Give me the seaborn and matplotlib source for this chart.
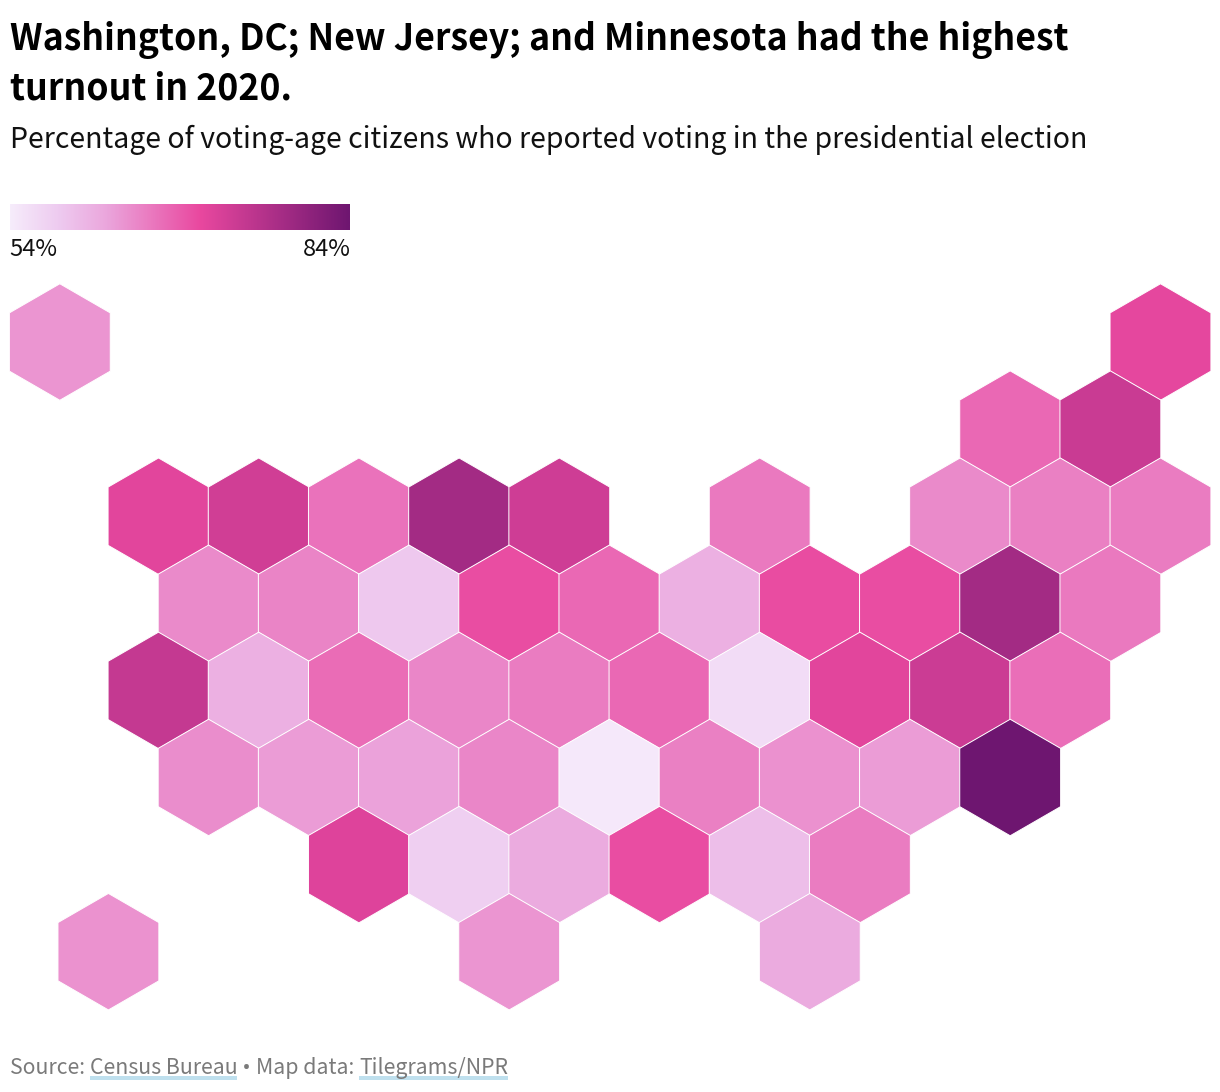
"""Hex tile map of 2020 voter turnout by state."""

import matplotlib

matplotlib.use("Agg")
import matplotlib.pyplot as plt
import numpy as np
import pandas as pd
import seaborn as sns
from matplotlib.colors import LinearSegmentedColormap
from matplotlib.patches import Rectangle

# grid position of each tile, half-tile steps across, one row per step down
row_0_cols = [0.03, 22]
row_1_cols = [19, 21]
row_2_cols = [2, 4, 6, 8, 10, 14, 18, 20, 22]
row_3_cols = [3, 5, 7, 9, 11, 13, 15, 17, 19, 21]
row_4_cols = [2, 4, 6, 8, 10, 12, 14, 16, 18, 20]
row_5_cols = [3, 5, 7, 9, 11, 13, 15, 17, 19]
row_6_cols = [6, 8, 10, 12, 14, 16]
row_7_cols = [1, 9, 15]

# turnout, percent of voting-age citizens
row_0_vals = [64.0, 71.2]
row_1_vals = [68.0, 74.2]
row_2_vals = [71.5, 73.5, 67.1, 78.3, 73.6, 66.5, 65.0, 65.9, 66.2]
row_3_vals = [65.0, 65.6, 58.6, 70.3, 68.0, 61.3, 70.5, 70.3, 78.3, 66.5]
row_4_vals = [74.8, 61.3, 67.7, 65.3, 66.2, 68.0, 56.0, 71.5, 74.0, 67.4]
row_5_vals = [64.7, 63.4, 62.8, 65.3, 54.5, 65.9, 64.4, 63.4, 84.0]
row_6_vals = [72.0, 57.7, 61.9, 70.3, 59.8, 66.2]
row_7_vals = [64.3, 64.0, 61.9]

all_cols = [row_0_cols, row_1_cols, row_2_cols, row_3_cols, row_4_cols, row_5_cols, row_6_cols, row_7_cols]
all_vals = [row_0_vals, row_1_vals, row_2_vals, row_3_vals, row_4_vals, row_5_vals, row_6_vals, row_7_vals]

scale_min = 54
scale_max = 84

title_lines = ["Washington, DC; New Jersey; and Minnesota had the highest", "turnout in 2020."]
subtitle = "Percentage of voting-age citizens who reported voting in the presidential election"

df = pd.DataFrame(
    [
        {"col": c, "row": r, "turnout": v}
        for r, (cols, vals) in enumerate(zip(all_cols, all_vals))
        for c, v in zip(cols, vals)
    ]
)

sns.set_theme(style="white")
plt.rcParams["font.family"] = ["Noto Sans CJK SC", "DejaVu Sans"]

W, H = 1220, 1092
fig = plt.figure(figsize=(W / 100, H / 100), dpi=100, facecolor="white")

cmap = LinearSegmentedColormap.from_list(
    "turnout",
    [(0, "#f6ecfb"), (0.14, "#eecbf0"), (0.28, "#eba7dd"), (0.56, "#e9489f"), (1, "#6e1670")],
)

# map fills the whole canvas so one column is about 50 px and one row 87 px
ax = fig.add_axes([0, 0, 1, 1])
sns.scatterplot(
    data=df,
    x="col",
    y="row",
    hue="turnout",
    hue_norm=(scale_min, scale_max),
    palette=cmap,
    marker="h",
    s=(116.5 * 0.72) ** 2,
    edgecolor="white",
    linewidth=0.7,
    legend=False,
    ax=ax,
)
ax.set_xlim(-1.164, 23.188)
ax.set_ylim(8.611, -3.927)
ax.axis("off")
ax.patch.set_alpha(0)


def fx(px):
    return px / W


def fy(px):
    return 1 - px / H


# legend bar
bar_ax = fig.add_axes([fx(10), fy(230), fx(340), 26 / H])
bar_ax.imshow(np.linspace(0, 1, 256).reshape(1, -1), aspect="auto", cmap=cmap)
bar_ax.axis("off")
fig.text(fx(9.5), fy(256), f"{scale_min}%", fontsize=17, color="#111111", va="baseline")
fig.text(fx(351), fy(256), f"{scale_max}%", fontsize=17, color="#111111", ha="right", va="baseline")

fig.text(fx(10), fy(50), title_lines[0], fontsize=25.67, fontweight="bold", color="black", va="baseline")
fig.text(fx(10), fy(100), title_lines[1], fontsize=25.67, fontweight="bold", color="black", va="baseline")
fig.text(fx(10), fy(148), subtitle, fontsize=20.46, color="#111111", va="baseline")

# source line, links get a pale blue underline, the bullet is narrower in Noto Sans
renderer = fig.canvas.get_renderer()
x = 10
for piece, linked, family in [
    ("Source: ", False, "Noto Sans CJK SC"),
    ("Census Bureau", True, "Noto Sans CJK SC"),
    ("\u00a0•\u00a0", False, "Noto Sans"),
    ("Map data: ", False, "Noto Sans CJK SC"),
    ("Tilegrams/NPR", True, "Noto Sans CJK SC"),
]:
    t = fig.text(fx(x), fy(1074), piece, fontsize=15.3, family=family, color="#7a7a7a", va="baseline", zorder=3)
    w = t.get_window_extent(renderer).width
    if linked:
        fig.add_artist(
            Rectangle((fx(x), fy(1080)), w / W, 4 / H, transform=fig.transFigure, color="#bfe0ee", lw=0, zorder=0)
        )
    x += w

fig.savefig("out.png", dpi=100)
